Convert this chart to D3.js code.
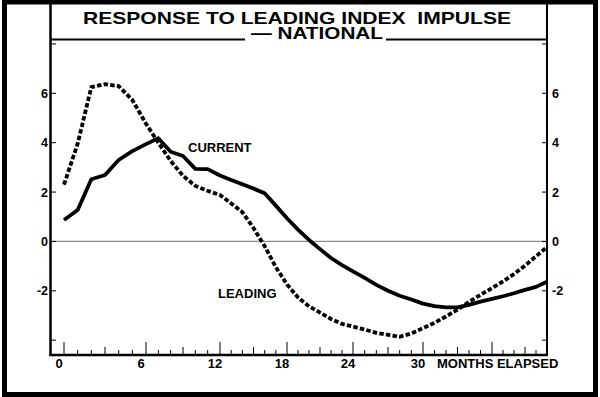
<!DOCTYPE html>
<html>
<head>
<meta charset="utf-8">
<script src="https://cdn.jsdelivr.net/npm/d3@7"></script>
<style>
  body { margin: 0; background: #fff; }
  svg { display: block; font-family: "Liberation Sans", Arial, sans-serif; font-weight: bold; }
</style>
</head>
<body>
<svg id="chart" width="600" height="397"></svg>
<script>
// months elapsed after the impulse
const months = d3.range(0, 42);

const current = [
  0.87, 1.27, 2.52, 2.69, 3.30, 3.66, 3.94, 4.18, 3.63, 3.46,
  2.94, 2.93, 2.67, 2.49, 2.32, 2.14, 1.95, 1.45, 0.94, 0.48,
  0.06, -0.31, -0.67, -0.96, -1.21, -1.48, -1.76, -2.00, -2.20, -2.35,
  -2.52, -2.62, -2.67, -2.67, -2.57, -2.44, -2.33, -2.22, -2.10, -1.96,
  -1.84, -1.63
];

const leading = [
  2.30, 3.96, 6.25, 6.37, 6.29, 5.73, 4.77, 4.00, 3.26, 2.66,
  2.25, 2.05, 1.88, 1.54, 1.19, 0.54, -0.19, -1.04, -1.74, -2.27,
  -2.63, -2.88, -3.14, -3.34, -3.45, -3.57, -3.70, -3.78, -3.86, -3.73,
  -3.51, -3.30, -3.04, -2.76, -2.45, -2.16, -1.89, -1.62, -1.32, -0.98,
  -0.60, -0.23
];

const yTicks = [-4, -2, 0, 2, 4, 6, 8];
const yLabels = [-2, 0, 2, 4, 6];
const xTicks = d3.range(0, 41);
const xLabels = [0, 6, 12, 18, 24, 30];

const svg = d3.select('#chart');
const plotLeft = 51, plotRight = 547, plotTop = 39, plotBottom = 355;

// the printed axis is ruled by hand, so the six-month steps are not equal
const x = d3.scaleLinear()
  .domain([-1, 0, 6, 12, 18, 24, 30, 36, 41])
  .range([plotLeft, 64, 146, 220, 287, 353, 423, 492, plotRight]);

const y = d3.scaleLinear()
  .domain([-4.6, 8.2])
  .range([plotBottom, plotTop]);

// outer border
svg.append('rect')
  .attr('x', 4.5).attr('y', 2)
  .attr('width', 591).attr('height', 392.5)
  .attr('fill', 'none').attr('stroke', '#000').attr('stroke-width', 5);

// frame
const frame = svg.append('g').attr('stroke', '#000');
frame.append('line').attr('x1', 50.5).attr('x2', 50.5).attr('y1', 3).attr('y2', plotBottom + 1).attr('stroke-width', 2.5);
frame.append('line').attr('x1', plotRight).attr('x2', plotRight).attr('y1', 3).attr('y2', plotBottom + 1).attr('stroke-width', 2);
frame.append('line').attr('x1', 49.5).attr('x2', plotRight + 1).attr('y1', plotBottom).attr('y2', plotBottom).attr('stroke-width', 2.5);
frame.append('line').attr('x1', plotLeft).attr('x2', 245).attr('y1', 39.5).attr('y2', 39.5).attr('stroke-width', 2);
frame.append('line').attr('x1', 386).attr('x2', plotRight).attr('y1', 39.5).attr('y2', 39.5).attr('stroke-width', 2);

// zero line
svg.append('line')
  .attr('x1', plotLeft).attr('x2', plotRight)
  .attr('y1', y(0)).attr('y2', y(0))
  .attr('stroke', '#8a8a8a').attr('stroke-width', 1.2);

// title
svg.append('text')
  .attr('x', 83).attr('y', 24)
  .attr('font-size', 17)
  .attr('textLength', 428).attr('lengthAdjust', 'spacingAndGlyphs')
  .style('white-space', 'pre')
  .text('RESPONSE TO LEADING INDEX  IMPULSE');

svg.append('text')
  .attr('x', 251).attr('y', 39)
  .attr('font-size', 16.5)
  .attr('textLength', 132).attr('lengthAdjust', 'spacingAndGlyphs')
  .text('\u2014 NATIONAL');

// y ticks, both sides pointing inward
const yt = svg.append('g').attr('stroke', '#000').attr('stroke-width', 1);
yt.selectAll('.tl').data(yTicks).enter().append('line')
  .attr('x1', plotLeft).attr('x2', plotLeft + 5)
  .attr('y1', d => y(d)).attr('y2', d => y(d));
yt.selectAll('.tr').data(yTicks).enter().append('line')
  .attr('x1', plotRight - 5).attr('x2', plotRight)
  .attr('y1', d => y(d)).attr('y2', d => y(d));

const fmt = d => d < 0 ? '-' + Math.abs(d) : String(d);

svg.append('g').selectAll('text').data(yLabels).enter().append('text')
  .attr('x', 48).attr('y', d => y(d)).attr('dy', '0.36em')
  .attr('text-anchor', 'end').attr('font-size', 12.5)
  .text(fmt);

svg.append('g').selectAll('text').data(yLabels).enter().append('text')
  .attr('x', 552).attr('y', d => y(d)).attr('dy', '0.36em')
  .attr('text-anchor', 'start').attr('font-size', 12.5)
  .text(fmt);

// x ticks: long every 6 months, medium every 3
svg.append('g').attr('stroke', '#000').attr('stroke-width', 1)
  .selectAll('line').data(xTicks).enter().append('line')
  .attr('x1', d => x(d)).attr('x2', d => x(d))
  .attr('y1', plotBottom)
  .attr('y2', d => plotBottom - (d % 6 === 0 ? 13 : d % 3 === 0 ? 8 : 5));

svg.append('g').selectAll('text').data(xLabels).enter().append('text')
  .attr('x', d => x(d) - 5).attr('y', 368)
  .attr('text-anchor', 'middle').attr('font-size', 13)
  .text(d => d);

svg.append('text')
  .attr('x', 437).attr('y', 368)
  .attr('font-size', 13)
  .text('MONTHS ELAPSED');

// series
const line = d3.line()
  .x((d, i) => x(months[i]))
  .y(d => y(d));

svg.append('path')
  .datum(leading)
  .attr('d', line)
  .attr('fill', 'none').attr('stroke', '#000')
  .attr('stroke-width', 3.8)
  .attr('stroke-dasharray', '4.5,2.2');

svg.append('path')
  .datum(current)
  .attr('d', line)
  .attr('fill', 'none').attr('stroke', '#000')
  .attr('stroke-width', 3.8)
  .attr('stroke-linejoin', 'round');

svg.append('text')
  .attr('x', 188).attr('y', 152)
  .attr('font-size', 13)
  .text('CURRENT');

svg.append('text')
  .attr('x', 218).attr('y', 298)
  .attr('font-size', 13)
  .text('LEADING');
</script>
</body>
</html>
